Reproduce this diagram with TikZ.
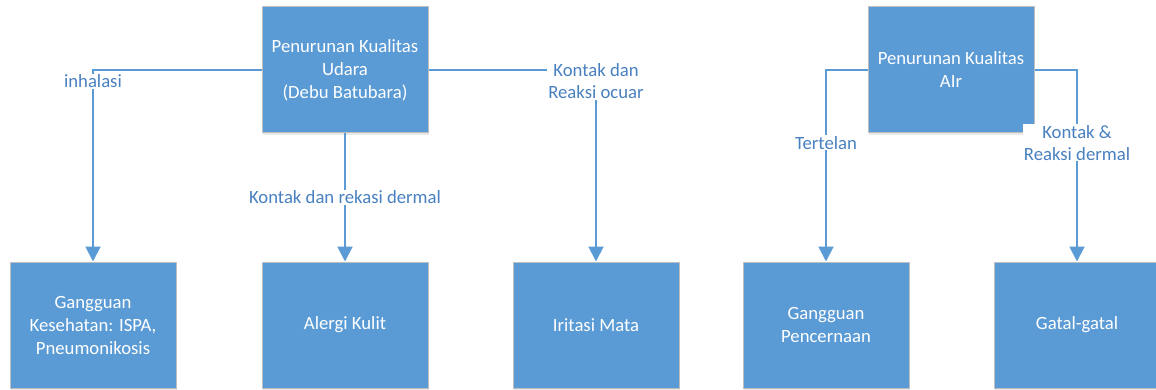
\documentclass[tikz,border=0pt]{standalone}
\usepackage{fontspec}
\setmainfont{Carlito}
\usetikzlibrary{arrows.meta, positioning, shadows}
\definecolor{boxblue}{RGB}{91,155,213}
\definecolor{lineblue}{RGB}{91,155,213}
\definecolor{lblblue}{RGB}{72,128,192}
\definecolor{boxedge}{RGB}{190,190,190}

\begin{document}
\begin{tikzpicture}[
    x=1pt, y=-1pt,
    box/.style={
      rectangle, draw=boxedge, line width=1pt, fill=boxblue,
      minimum width=166pt, minimum height=126pt,
      font=\fontsize{18.7}{23}\selectfont, text=white,
      align=center, inner sep=2pt,
      drop shadow={opacity=0.18, shadow xshift=1pt, shadow yshift=-2pt}
    },
    arr/.style={-{Triangle[width=15pt,length=15pt]}, line width=2pt, lineblue},
    lbl/.style={fill=white, text=lblblue, align=center, inner sep=1pt,
                font=\fontsize{18.7}{22}\selectfont}
  ]
    \useasboundingbox (0,0) rectangle (1156,390);

    % Sumber pencemaran
    \node[box] (udara) at (345,70) {Penurunan Kualitas\\Udara\\(Debu Batubara)};
    \node[box] (air)   at (951,70) {Penurunan Kualitas\\AIr};

    % Dampak
    \node[box] (ispa)   at (93,325)   {Gangguan\\Kesehatan: ISPA,\\Pneumonikosis};
    \node[box] (alergi) at (345,325)  {Alergi Kulit};
    \node[box] (mata)   at (596,325)  {Iritasi Mata};
    \node[box] (cerna)  at (826,325)  {Gangguan\\Pencernaan};
    \node[box] (gatal)  at (1077,325) {Gatal-gatal};

    % Jalur paparan
    \draw[arr] (udara.west) -| node[lbl, pos=0.53] {inhalasi} (ispa.north);
    \draw[arr] (udara.south) -- node[lbl, pos=0.5] {Kontak dan rekasi dermal} (alergi.north);
    \draw[arr] (udara.east) -| node[lbl, pos=0.53] {Kontak dan\\Reaksi ocuar} (mata.north);
    \draw[arr] (air.west) -| node[lbl, pos=0.69] {Tertelan} (cerna.north);
    \draw[arr] (air.east) -| node[lbl, pos=0.69] {Kontak \&\\Reaksi dermal} (gatal.north);

  \end{tikzpicture}
\end{document}
